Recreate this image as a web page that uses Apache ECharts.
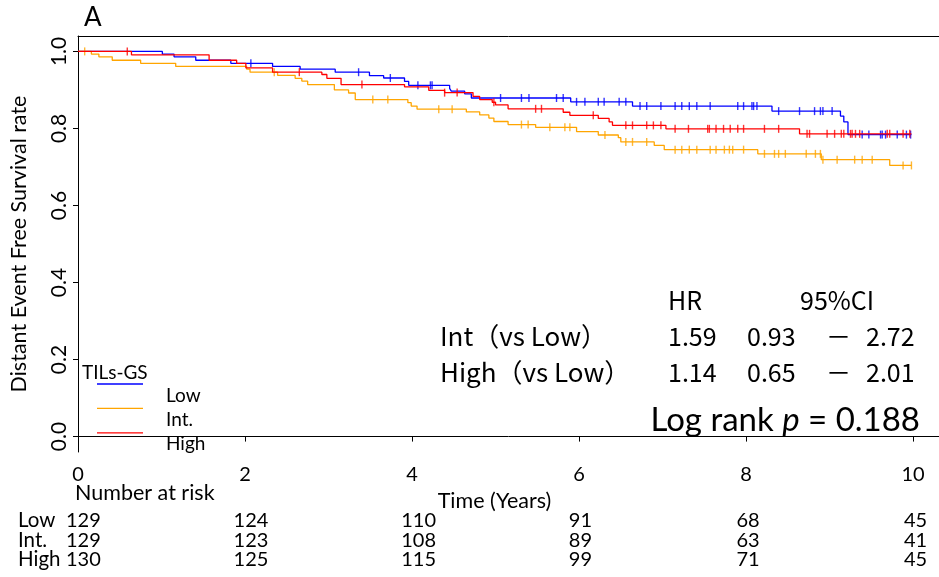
<!DOCTYPE html>
<html>
<head>
<meta charset="utf-8">
<script src="https://cdn.jsdelivr.net/npm/echarts@6/dist/echarts.min.js"></script>
<style>
  html, body { margin: 0; padding: 0; background: #fff; }
  #chart { width: 939px; height: 577px; }
</style>
</head>
<body>
<div id="chart"></div>
<script>
// Kaplan-Meier estimates by TILs-GS group: [time in years, survival after the event]
const groupNames = ['Low', 'Int.', 'High'];
const groupColors = ['#0000ff', '#ffa500', '#ff0000'];

const lowEvents = [
  [1.01, 0.993], [1.15, 0.986], [1.41, 0.977], [1.83, 0.969], [2.33, 0.961],
  [2.66, 0.954], [3.08, 0.946], [3.49, 0.937], [3.66, 0.931], [3.91, 0.922],
  [3.96, 0.912], [4.45, 0.904], [4.47, 0.897], [4.63, 0.890], [4.71, 0.879],
  [5.90, 0.869], [6.64, 0.858], [8.31, 0.845], [9.13, 0.832], [9.17, 0.817],
  [9.22, 0.784]
];
const intEvents = [
  [0.16, 0.993], [0.25, 0.986], [0.41, 0.977], [0.75, 0.969], [1.17, 0.961],
  [2.02, 0.954], [2.06, 0.946], [2.39, 0.938], [2.60, 0.930], [2.68, 0.923],
  [2.75, 0.914], [3.07, 0.900], [3.24, 0.892], [3.32, 0.875], [3.95, 0.867],
  [3.99, 0.858], [4.06, 0.850], [4.65, 0.843], [4.81, 0.835], [4.92, 0.827],
  [4.98, 0.818], [5.15, 0.810], [5.48, 0.803], [5.97, 0.792], [6.23, 0.783],
  [6.47, 0.776], [6.50, 0.765], [6.90, 0.756], [7.02, 0.745], [8.14, 0.734],
  [8.90, 0.719], [9.72, 0.704]
];
const highEvents = [
  [0.64, 0.991], [1.57, 0.977], [1.90, 0.969], [2.01, 0.957], [2.33, 0.946],
  [2.92, 0.940], [2.98, 0.930], [3.15, 0.914], [3.91, 0.908], [4.20, 0.899],
  [4.39, 0.893], [4.73, 0.883], [4.81, 0.875], [4.96, 0.868], [5.00, 0.861],
  [5.15, 0.851], [5.81, 0.842], [5.89, 0.834], [6.23, 0.826], [6.36, 0.817],
  [6.40, 0.808], [7.04, 0.799], [8.64, 0.786]
];

// Censoring times (years)
const lowCensor = [
  2.07, 3.36, 3.74, 4.07, 4.22, 4.24, 5.06, 5.31, 5.40, 5.73, 5.81, 5.97, 6.07,
  6.23, 6.30, 6.48, 6.56, 6.73, 6.81, 6.98, 7.15, 7.23, 7.32, 7.41, 7.57, 7.90,
  7.97, 8.07, 8.09, 8.13, 8.39, 8.64, 8.82, 8.89, 8.92, 9.03, 9.39, 9.47, 9.61,
  9.63, 9.67, 9.81, 9.92, 9.97
];
const intCensor = [
  0.08, 2.35, 3.53, 3.71, 4.32, 4.48, 5.31, 5.39, 5.65, 5.83, 5.89, 6.31, 6.56,
  6.64, 6.81, 7.15, 7.23, 7.32, 7.41, 7.57, 7.64, 7.74, 7.80, 7.84, 7.97, 8.22,
  8.34, 8.39, 8.47, 8.72, 8.83, 8.89, 8.92, 9.09, 9.30, 9.39, 9.51, 9.88, 9.98
];
const highCensor = [
  0.59, 2.65, 3.40, 4.39, 4.54, 4.98, 5.48, 5.55, 6.17, 6.56, 6.64, 6.81, 6.89,
  6.98, 7.15, 7.31, 7.54, 7.56, 7.64, 7.73, 7.81, 7.90, 7.97, 8.22, 8.39, 8.73,
  8.76, 8.97, 9.06, 9.14, 9.17, 9.25, 9.27, 9.31, 9.36, 9.69, 9.72, 9.88, 9.96
];
const followUpEnd = [9.98, 9.98, 9.98];

// Number at risk table
const riskTimes = [0, 2, 4, 6, 8, 10];
const riskLow = [129, 124, 110, 91, 68, 45];
const riskInt = [129, 123, 108, 89, 63, 41];
const riskHigh = [130, 125, 115, 99, 71, 45];

// Axis ticks
const xTicks = [0, 2, 4, 6, 8, 10];
const yTicks = [0, 0.2, 0.4, 0.6, 0.8, 1.0];

// Hazard ratio summary
const hrHeader = ['HR', '95%CI'];
const hrRows = [
  { label: 'Int（vs Low）', hr: '1.59', lo: '0.93', hi: '2.72' },
  { label: 'High（vs Low）', hr: '1.14', lo: '0.65', hi: '2.01' }
];
const logRankP = '0.188';

const eventsByGroup = [lowEvents, intEvents, highEvents];
const censorByGroup = [lowCensor, intCensor, highCensor];
const riskByGroup = [riskLow, riskInt, riskHigh];

const FONT = 'Lato, "Noto Sans", sans-serif';
const CJK = '"Noto Sans CJK JP", "Noto Sans", sans-serif';
const XMAX = 10.31;

function survivalAt(events, t) {
  let s = 1;
  for (const [et, es] of events) {
    if (et <= t) s = es; else break;
  }
  return s;
}
function stepCurve(events, tEnd) {
  return [[0, 1]].concat(events, [[tEnd, events[events.length - 1][1]]]);
}

const series = [];
groupNames.forEach((name, i) => {
  series.push({
    name: name,
    type: 'line',
    step: 'end',
    xAxisIndex: 0, yAxisIndex: 0,
    data: stepCurve(eventsByGroup[i], followUpEnd[i]),
    showSymbol: false,
    lineStyle: { color: groupColors[i], width: 1.3 },
    silent: true,
    z: 2 + i
  });
  series.push({
    name: name + ' censored',
    type: 'scatter',
    xAxisIndex: 0, yAxisIndex: 0,
    data: censorByGroup[i].map(t => [t, survivalAt(eventsByGroup[i], t)]),
    symbol: 'rect',
    symbolSize: [1.4, 8],
    itemStyle: { color: groupColors[i] },
    silent: true,
    z: 2 + i
  });
  series.push({
    name: name + ' at risk',
    type: 'scatter',
    xAxisIndex: 2, yAxisIndex: 1,
    data: riskTimes.map((t, j) => [t, i, riskByGroup[i][j]]),
    symbolSize: 0,
    itemStyle: { color: '#000000', opacity: 1 },
    silent: true,
    label: {
      show: true,
      position: 'inside',
      align: 'left',
      verticalAlign: 'middle',
      offset: [-9, 0],
      formatter: p => String(p.value[2]),
      color: '#000000',
      textBorderWidth: 0,
      fontFamily: FONT,
      fontSize: 20
    }
  });
});

// Legend block in the lower-left corner of the plot
const legendItems = [];
groupNames.forEach((name, i) => {
  legendItems.push({
    type: 'line',
    shape: { x1: 97, y1: 384 + i * 24.4, x2: 143, y2: 384 + i * 24.4 },
    style: { stroke: groupColors[i], lineWidth: 1.3 }
  });
  legendItems.push({
    type: 'text',
    x: 166, y: 396 + i * 24,
    style: { text: name, font: '19px ' + FONT, fill: '#000', textVerticalAlign: 'middle' }
  });
});

const hrGraphics = [
  { type: 'text', x: 668, y: 300, style: { text: hrHeader[0], font: '25px ' + CJK, fill: '#000', textVerticalAlign: 'middle' } },
  { type: 'text', x: 800, y: 300, style: { text: hrHeader[1], font: '25px ' + CJK, fill: '#000', textVerticalAlign: 'middle' } }
];
hrRows.forEach((r, k) => {
  const y = 336 + k * 36.5;
  const st = (t, size) => ({ text: t, font: (size || 25) + 'px ' + CJK, fill: '#000', textVerticalAlign: 'middle' });
  hrGraphics.push({ type: 'text', x: 440, y: y, style: st(r.label, 26) });
  hrGraphics.push({ type: 'text', x: 668, y: y, style: st(r.hr) });
  hrGraphics.push({ type: 'text', x: 747, y: y, style: st(r.lo) });
  hrGraphics.push({ type: 'text', x: 826, y: y, style: st('－') });
  hrGraphics.push({ type: 'text', x: 866, y: y, style: st(r.hi) });
});

const chart = echarts.init(document.getElementById('chart'), null, { renderer: 'canvas' });
chart.setOption({
  animation: false,
  backgroundColor: '#ffffff',
  grid: [
    { left: 75, right: 0, top: 36, bottom: 125 },
    { left: 75, right: 0, top: 511, height: 58.5 }
  ],
  xAxis: [
    {
      gridIndex: 0, type: 'value', min: 0, max: XMAX, position: 'bottom',
      name: 'Time (Years)', nameLocation: 'middle', nameGap: 30,
      nameTextStyle: { fontFamily: FONT, fontSize: 21.5, color: '#000', padding: [0, 28, 0, 0] },
      axisLine: { show: true, lineStyle: { color: '#000', width: 1 } },
      axisTick: { show: true, length: 5, customValues: xTicks, lineStyle: { color: '#000' } },
      axisLabel: { customValues: xTicks, margin: 13, fontFamily: FONT, fontSize: 20, color: '#000' },
      splitLine: { show: false }
    },
    {
      gridIndex: 0, type: 'value', min: 0, max: XMAX, position: 'top',
      axisLine: { show: true, onZero: false, lineStyle: { color: '#000', width: 1 } },
      axisTick: { show: false }, axisLabel: { show: false }, splitLine: { show: false }
    },
    {
      gridIndex: 1, type: 'value', min: 0, max: XMAX, show: false
    }
  ],
  yAxis: [
    {
      gridIndex: 0, type: 'value', min: -0.04, max: 1.04,
      name: 'Distant Event Free Survival rate', nameLocation: 'middle', nameGap: 48,
      nameTextStyle: { fontFamily: FONT, fontSize: 21.5, color: '#000' },
      axisLine: { show: true, onZero: false, lineStyle: { color: '#000', width: 1 } },
      axisTick: { show: true, length: 5, customValues: yTicks, lineStyle: { color: '#000' } },
      axisLabel: {
        customValues: yTicks, rotate: 90, margin: 8,
        formatter: v => Number(v).toFixed(1),
        fontFamily: FONT, fontSize: 21, color: '#000'
      },
      splitLine: { show: false }
    },
    {
      gridIndex: 1, type: 'category', data: groupNames, inverse: true,
      axisLine: { show: false }, axisTick: { show: false },
      axisLabel: { interval: 0, margin: 57, align: 'left', fontFamily: FONT, fontSize: 20.5, color: '#000' },
      splitLine: { show: false }
    }
  ],
  graphic: [
    { type: 'text', x: 84, y: 18, style: { text: 'A', font: '26px ' + FONT, fill: '#000', textVerticalAlign: 'middle' } },
    { type: 'text', x: 75, y: 493, style: { text: 'Number at risk', font: '21.5px ' + FONT, fill: '#000', textVerticalAlign: 'middle' } },
    { type: 'text', x: 82, y: 373, style: { text: 'TILs-GS', font: '19px ' + FONT, fill: '#000', textVerticalAlign: 'middle' } },
    ...legendItems,
    ...hrGraphics,
    {
      type: 'text', x: 920, y: 420,
      style: {
        rich: {
          n: { fontFamily: FONT, fontSize: 33, fill: '#000' },
          i: { fontFamily: FONT, fontSize: 33, fontStyle: 'italic', fill: '#000' }
        },
        text: '{n|Log rank }{i|p}{n| = ' + logRankP + '}',
        textAlign: 'right', textVerticalAlign: 'middle'
      }
    }
  ],
  series: series
});
</script>
</body>
</html>
